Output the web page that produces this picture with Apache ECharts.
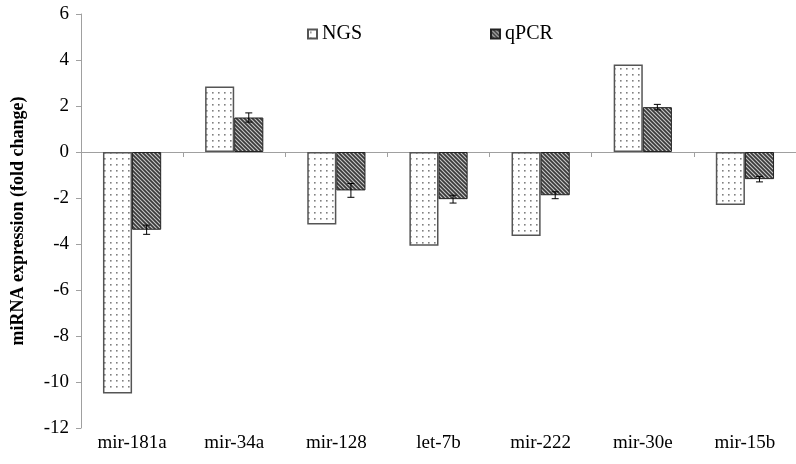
<!DOCTYPE html>
<html>
<head>
<meta charset="utf-8">
<script src="https://cdn.jsdelivr.net/npm/echarts@6/dist/echarts.min.js"></script>
<style>
html,body{margin:0;padding:0;background:#fff;}
#chart{width:796px;height:464px;}
</style>
</head>
<body>
<div id="chart"></div>
<script>
var categories = ['mir-181a', 'mir-34a', 'mir-128', 'let-7b', 'mir-222', 'mir-30e', 'mir-15b'];
var ngsValues = [-10.5, 2.85, -3.15, -4.08, -3.65, 3.8, -2.3];
var qpcrValues = [-3.38, 1.5, -1.67, -2.05, -1.88, 1.95, -1.18];
var qpcrErrors = [0.2, 0.2, 0.3, 0.17, 0.15, 0.12, 0.12];
var yTicks = [-12, -10, -8, -6, -4, -2, 0, 2, 4, 6];

function dotPattern() {
  var c = document.createElement('canvas');
  c.width = 6; c.height = 6;
  var g = c.getContext('2d');
  g.fillStyle = '#ffffff'; g.fillRect(0, 0, 6, 6);
  g.fillStyle = '#808080';
  g.fillRect(2, 2, 1.6, 1.6);
  return c;
}
function stripePattern() {
  var c = document.createElement('canvas');
  c.width = 4; c.height = 4;
  var g = c.getContext('2d');
  g.fillStyle = '#3a3a3a'; g.fillRect(0, 0, 4, 4);
  g.strokeStyle = '#c8c8c8'; g.lineWidth = 1.1;
  g.beginPath();
  g.moveTo(-1, -1); g.lineTo(5, 5);
  g.moveTo(-1, 3); g.lineTo(1, 5);
  g.moveTo(3, -1); g.lineTo(5, 1);
  g.stroke();
  return c;
}

var FONT = "'Liberation Serif', 'Times New Roman', serif";
var chart = echarts.init(document.getElementById('chart'));
var gapFrac = 0.43;

var option = {
  animation: false,
  backgroundColor: '#fff',
  grid: { left: 81, right: -10, top: 14, bottom: 36, containLabel: false },
  legend: {
    data: ['NGS', 'qPCR'],
    left: 302, top: 19,
    itemWidth: 9, itemHeight: 9, itemGap: 128,
    icon: 'rect',
    textStyle: { fontFamily: FONT, fontSize: 20, color: '#000' }
  },
  xAxis: [
    {
      type: 'category', data: categories,
      axisLine: { onZero: true, lineStyle: { color: '#a0a0a0', width: 1 } },
      axisTick: { show: true, length: 5, lineStyle: { color: '#a0a0a0' } },
      axisLabel: { show: false }
    },
    {
      type: 'category', data: categories, position: 'bottom',
      axisLine: { show: false, onZero: false },
      axisTick: { show: false },
      axisLabel: { fontFamily: FONT, fontSize: 19, color: '#000', margin: 6 }
    }
  ],
  yAxis: {
    type: 'value', min: -12, max: 6, interval: 2,
    name: 'miRNA expression (fold change)',
    nameLocation: 'middle', nameGap: 54,
    nameTextStyle: { fontFamily: FONT, fontSize: 18, fontWeight: 'bold', color: '#000' },
    axisLine: { show: true, lineStyle: { color: '#a0a0a0', width: 1 } },
    axisTick: { show: true, length: 5, lineStyle: { color: '#a0a0a0' } },
    axisLabel: { fontFamily: FONT, fontSize: 19, color: '#000', margin: 12 },
    splitLine: { show: false }
  },
  series: [
    {
      name: 'NGS', type: 'bar', data: ngsValues, xAxisIndex: 0,
      barGap: '0%', barCategoryGap: (gapFrac * 100) + '%',
      itemStyle: { color: { image: dotPattern(), repeat: 'repeat' }, borderColor: '#555', borderWidth: 1.5 }
    },
    {
      name: 'qPCR', type: 'bar', data: qpcrValues, xAxisIndex: 0,
      barGap: '0%', barCategoryGap: (gapFrac * 100) + '%',
      itemStyle: { color: { image: stripePattern(), repeat: 'repeat' }, borderColor: '#222', borderWidth: 1 }
    },
    {
      name: 'err', type: 'custom', xAxisIndex: 0,
      data: qpcrValues.map(function (v, i) { return [i, v, qpcrErrors[i]]; }),
      renderItem: function (params, api) {
        var i = api.value(0), v = api.value(1), e = api.value(2);
        var band = api.size([1, 0])[0];
        var off = band * (1 - gapFrac) / 4;
        var top = api.coord([i, v + e]);
        var bot = api.coord([i, v - e]);
        var x = top[0] + off;
        var cw = 3.5;
        return {
          type: 'group',
          children: [
            { type: 'line', shape: { x1: x, y1: top[1], x2: x, y2: bot[1] }, style: { stroke: '#000', lineWidth: 1 } },
            { type: 'line', shape: { x1: x - cw, y1: top[1], x2: x + cw, y2: top[1] }, style: { stroke: '#000', lineWidth: 1 } },
            { type: 'line', shape: { x1: x - cw, y1: bot[1], x2: x + cw, y2: bot[1] }, style: { stroke: '#000', lineWidth: 1 } }
          ]
        };
      },
      z: 10
    }
  ]
};
chart.setOption(option);
</script>
</body>
</html>
